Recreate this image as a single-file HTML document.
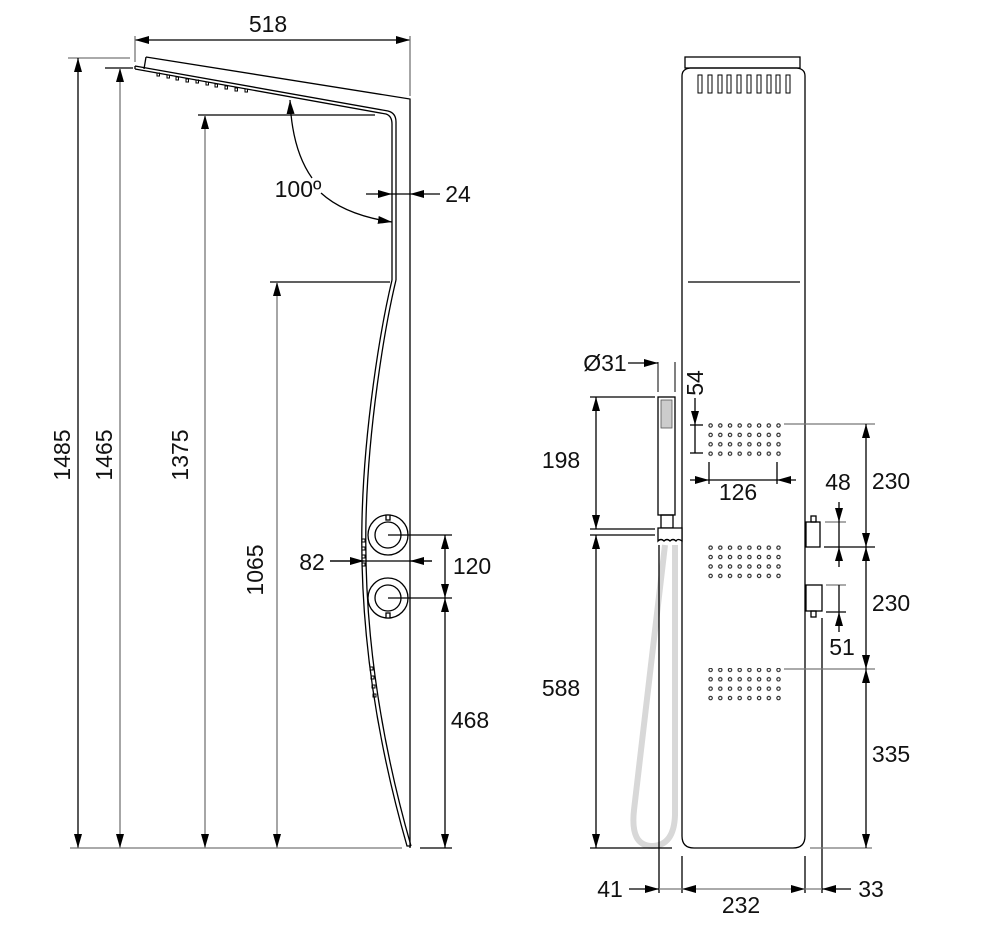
<!DOCTYPE html>
<html><head><meta charset="utf-8"><style>
html,body{margin:0;padding:0;background:#fff}
svg{display:block}
text{font-family:"Liberation Sans Narrow","Liberation Sans",sans-serif;font-size:23px;fill:#111}
</style></head><body>
<svg width="991" height="927" viewBox="0 0 991 927" xmlns="http://www.w3.org/2000/svg">
<defs>
<marker id="a" viewBox="0 0 14 8" refX="14" refY="4" markerWidth="14" markerHeight="8" markerUnits="userSpaceOnUse" orient="auto-start-reverse"><path d="M0,0L14,4L0,8z" fill="#000"/></marker>
<pattern id="dots" width="9.7" height="9.4" patternUnits="userSpaceOnUse"><circle cx="2.5" cy="2.5" r="1.7" fill="none" stroke="#222" stroke-width="1.1"/></pattern>
</defs>
<g fill="none" stroke="#000" stroke-width="1.3">
<line x1="135" y1="40" x2="410" y2="40" marker-start="url(#a)" marker-end="url(#a)"/>
<line x1="135" y1="36" x2="135" y2="62" stroke="#777"/>
<line x1="410" y1="36" x2="410" y2="96" stroke="#777"/>
<path d="M146,57 L410,99 L410,848"/>
<path d="M146,57 L144,69"/>
<path d="M135,66 L388,111 Q396,113 396,122 L396,280"/>
<path d="M135,69 L386,114 Q392,116 392,124 L392,280"/>
<path d="M135,66 L135,69"/>
<g stroke-width="1">
<rect x="157" y="73" width="2.5" height="3"/><rect x="167" y="75" width="2.5" height="3"/><rect x="176" y="77" width="2.5" height="3"/><rect x="186" y="79" width="2.5" height="3"/><rect x="196" y="80" width="2.5" height="3"/><rect x="206" y="82" width="2.5" height="3"/><rect x="215" y="84" width="2.5" height="3"/><rect x="225" y="86" width="2.5" height="3"/><rect x="235" y="88" width="2.5" height="3"/><rect x="245" y="89" width="2.5" height="3"/>
</g>
<path d="M396,280 C384,330 368,430 366,520 C364,610 375,720 411,846"/>
<path d="M392,280 C380,330 364,430 362,520 C360,610 371,720 407,846 L411,846"/>
<g stroke-width="1"><rect x="362" y="539" width="3" height="3"/><rect x="362" y="547" width="3" height="3"/><rect x="362" y="555" width="3" height="3"/><rect x="362" y="563" width="3" height="3"/><rect x="370" y="667" width="3" height="3"/><rect x="371" y="676" width="3" height="3"/><rect x="372" y="685" width="3" height="3"/><rect x="373" y="694" width="3" height="3"/></g>
<circle cx="388" cy="535" r="20"/><circle cx="388" cy="535" r="13"/>
<rect x="386" y="515" width="4" height="5" fill="#fff"/>
<circle cx="388" cy="598" r="20"/><circle cx="388" cy="598" r="13"/>
<rect x="386" y="613" width="4" height="5" fill="#fff"/>
<line x1="68" y1="58" x2="130" y2="58" stroke="#777"/>
<line x1="78" y1="58" x2="78" y2="848" marker-start="url(#a)" marker-end="url(#a)"/>
<line x1="105" y1="68" x2="133" y2="68"/>
<line x1="120" y1="68" x2="120" y2="848" stroke="#777" marker-start="url(#a)" marker-end="url(#a)"/>
<line x1="198" y1="115" x2="375" y2="115"/>
<line x1="205" y1="115" x2="205" y2="848" stroke="#777" marker-start="url(#a)" marker-end="url(#a)"/>
<line x1="270" y1="282" x2="390" y2="282"/>
<line x1="277" y1="282" x2="277" y2="848" stroke="#777" marker-start="url(#a)" marker-end="url(#a)"/>
<line x1="70" y1="848" x2="402" y2="848" stroke="#777"/>
<line x1="420" y1="848" x2="452" y2="848"/>
<path d="M290,100 Q292,150 312,178" marker-start="url(#a)"/>
<path d="M321,193 Q345,215 392,222" marker-end="url(#a)"/>
<line x1="366" y1="194" x2="392" y2="194" marker-end="url(#a)"/>
<line x1="410" y1="194" x2="440" y2="194" marker-start="url(#a)"/>
<line x1="392" y1="194" x2="410" y2="194"/>
<line x1="330" y1="561" x2="432" y2="561"/>
<line x1="330" y1="561" x2="364" y2="561" marker-end="url(#a)"/>
<line x1="432" y1="561" x2="410" y2="561" marker-end="url(#a)"/>
<line x1="388" y1="535" x2="452" y2="535"/>
<line x1="388" y1="598" x2="452" y2="598"/>
<line x1="445" y1="535" x2="445" y2="598" marker-start="url(#a)" marker-end="url(#a)"/>
<line x1="445" y1="598" x2="445" y2="848" marker-start="url(#a)" marker-end="url(#a)"/>

<rect x="685" y="57" width="115" height="11"/>
<path d="M682,76 Q682,69 690,68 L797,68 Q805,69 805,76 L805,836 Q805,848 793,848 L694,848 Q682,848 682,836 Z"/>
<line x1="688" y1="282" x2="800" y2="282"/>
<g stroke-width="1">
<rect x="698" y="75" width="4" height="18"/><rect x="708" y="75" width="4" height="18"/><rect x="718" y="75" width="4" height="18"/><rect x="727" y="75" width="4" height="18"/><rect x="737" y="75" width="4" height="18"/><rect x="747" y="75" width="4" height="18"/><rect x="757" y="75" width="4" height="18"/><rect x="767" y="75" width="4" height="18"/><rect x="776" y="75" width="4" height="18"/><rect x="786" y="75" width="4" height="18"/>
</g>
<rect x="707" y="423" width="77" height="35" fill="url(#dots)" stroke="none"/>
<rect x="707" y="545" width="77" height="35" fill="url(#dots)" stroke="none"/>
<rect x="707" y="668" width="77" height="35" fill="url(#dots)" stroke="none"/>
<rect x="806" y="522" width="14" height="25"/><rect x="811" y="516" width="5" height="6"/>
<rect x="806" y="585" width="16" height="26"/><rect x="811" y="611" width="5" height="6"/>
<line x1="822" y1="618" x2="822" y2="893"/>
<path d="M665,545 L634,810 Q630,846 652,846 Q674,846 675,815 L675,545" stroke="#d8d8d8" stroke-width="6"/>
<rect x="658" y="397" width="17" height="118"/>
<rect x="661" y="400" width="11" height="28" fill="#ccc" stroke="#555" stroke-width="0.8"/>
<rect x="661" y="515" width="12" height="13"/>
<path d="M658,528 L682,528 L682,541 Q678,538 676,541 Q673,538 670,541 Q667,538 664,541 Q661,538 658,541 Z" fill="#fff"/>
<line x1="659" y1="545" x2="659" y2="893"/>
<line x1="628" y1="363" x2="658" y2="363" marker-end="url(#a)"/>
<line x1="658" y1="362" x2="658" y2="392" stroke-width="1"/>
<line x1="675" y1="362" x2="675" y2="392" stroke-width="1"/>
<line x1="590" y1="397" x2="655" y2="397"/>
<line x1="590" y1="529" x2="655" y2="529"/>
<line x1="590" y1="535" x2="655" y2="535"/>
<line x1="596" y1="397" x2="596" y2="529" marker-start="url(#a)" marker-end="url(#a)"/>
<line x1="596" y1="535" x2="596" y2="848" marker-start="url(#a)" marker-end="url(#a)"/>
<line x1="590" y1="848" x2="672" y2="848"/>
<line x1="695" y1="398" x2="695" y2="425" marker-end="url(#a)"/>
<line x1="695" y1="425" x2="695" y2="453"/>
<line x1="690" y1="425" x2="703" y2="425"/><line x1="690" y1="453" x2="703" y2="453"/>
<line x1="709" y1="462" x2="709" y2="484"/><line x1="777" y1="462" x2="777" y2="484"/>
<line x1="690" y1="480" x2="709" y2="480" marker-end="url(#a)"/>
<line x1="796" y1="480" x2="777" y2="480" marker-end="url(#a)"/>
<line x1="709" y1="480" x2="777" y2="480"/>
<line x1="784" y1="424" x2="875" y2="424" stroke="#777"/>
<line x1="824" y1="547" x2="875" y2="547"/>
<line x1="784" y1="669" x2="875" y2="669" stroke="#777"/>
<line x1="810" y1="848" x2="872" y2="848" stroke="#777"/>
<line x1="866" y1="424" x2="866" y2="547" marker-start="url(#a)" marker-end="url(#a)"/>
<line x1="866" y1="547" x2="866" y2="669" marker-start="url(#a)" marker-end="url(#a)"/>
<line x1="866" y1="669" x2="866" y2="848" marker-start="url(#a)" marker-end="url(#a)"/>
<line x1="825" y1="522" x2="846" y2="522" stroke="#777"/>
<line x1="839" y1="502" x2="839" y2="522" marker-end="url(#a)"/>
<line x1="839" y1="567" x2="839" y2="547" marker-end="url(#a)"/>
<line x1="839" y1="522" x2="839" y2="547"/>
<line x1="826" y1="585" x2="846" y2="585" stroke="#777"/>
<line x1="826" y1="612" x2="846" y2="612"/>
<line x1="839" y1="585" x2="839" y2="612"/>
<line x1="839" y1="632" x2="839" y2="612" marker-end="url(#a)"/>
<line x1="682" y1="856" x2="682" y2="893"/>
<line x1="805" y1="856" x2="805" y2="893"/>
<line x1="629" y1="889" x2="659" y2="889" marker-end="url(#a)"/>
<line x1="659" y1="889" x2="682" y2="889" stroke="#777"/>
<line x1="682" y1="889" x2="805" y2="889" stroke="#777" marker-start="url(#a)" marker-end="url(#a)"/>
<line x1="805" y1="889" x2="822" y2="889" stroke="#777"/>
<line x1="851" y1="889" x2="822" y2="889" marker-end="url(#a)"/>
</g>
<text x="268" y="32" text-anchor="middle">518</text>
<text x="298" y="197" text-anchor="middle">100º</text>
<text x="458" y="202" text-anchor="middle">24</text>
<text x="312" y="570" text-anchor="middle">82</text>
<text x="472" y="574" text-anchor="middle">120</text>
<text x="470" y="728" text-anchor="middle">468</text>
<text transform="translate(70,455) rotate(-90)" text-anchor="middle">1485</text>
<text transform="translate(112,455) rotate(-90)" text-anchor="middle">1465</text>
<text transform="translate(188,455) rotate(-90)" text-anchor="middle">1375</text>
<text transform="translate(263,570) rotate(-90)" text-anchor="middle">1065</text>
<text x="605" y="371" text-anchor="middle">Ø31</text>
<text transform="translate(703,383) rotate(-90)" text-anchor="middle">54</text>
<text x="561" y="468" text-anchor="middle">198</text>
<text x="561" y="696" text-anchor="middle">588</text>
<text x="738" y="500" text-anchor="middle">126</text>
<text x="838" y="490" text-anchor="middle">48</text>
<text x="842" y="655" text-anchor="middle">51</text>
<text x="891" y="489" text-anchor="middle">230</text>
<text x="891" y="611" text-anchor="middle">230</text>
<text x="891" y="762" text-anchor="middle">335</text>
<text x="610" y="897" text-anchor="middle">41</text>
<text x="741" y="913" text-anchor="middle">232</text>
<text x="871" y="897" text-anchor="middle">33</text>
</svg>
</body></html>
